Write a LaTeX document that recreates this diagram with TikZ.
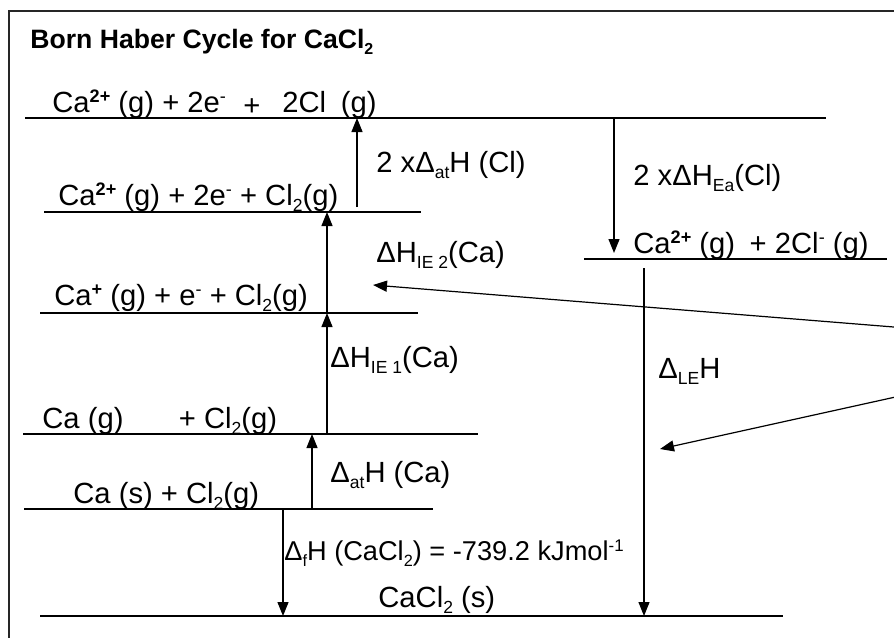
\documentclass[tikz,border=0pt]{standalone}
\usepackage{fontspec}
\setmainfont{Liberation Sans}
\usetikzlibrary{arrows.meta}
\newcommand{\chsub}[1]{\raisebox{-0.45ex}{\scalebox{0.6}{#1}}}
\newcommand{\chsup}[1]{\raisebox{0.6ex}{\scalebox{0.62}{#1}}}

\tikzset{
  level/.style={line width=1pt},
  jump/.style={line width=0.6pt,-{Triangle[length=7pt,width=5.5pt]}},
  lab/.style={anchor=base west,inner sep=0pt,font=\fontsize{14.6}{17}\selectfont},
}

\begin{document}
\begin{tikzpicture}[x=0.5pt,y=-0.5pt]
  \useasboundingbox (0,0) rectangle (894,638);

  % frame (only top and left edge are on the page)
  \coordinate (F0) at (9,11);
  \coordinate (F1) at (894,11);
  \coordinate (F2) at (9,638);
  \draw[line width=1pt,black!85] (F1)--(F0)--(F2);

  \node[anchor=base west,inner sep=0pt,font=\fontsize{13.3}{15}\selectfont\bfseries]
    (title) at (30,48) {Born Haber Cycle for CaCl\chsub{2}};

  % energy levels
  \coordinate (L1w) at (25,118);  \coordinate (L1e) at (826,118);
  \coordinate (L2w) at (44,212);  \coordinate (L2e) at (421,212);
  \coordinate (L3w) at (584,259); \coordinate (L3e) at (887,259);
  \coordinate (L4w) at (40,313);  \coordinate (L4e) at (418,313);
  \coordinate (L5w) at (23,434);  \coordinate (L5e) at (478,434);
  \coordinate (L6w) at (24,509);  \coordinate (L6e) at (433,509);
  \coordinate (L7w) at (40,616);  \coordinate (L7e) at (783,616);

  \draw[level] (L1w)--(L1e) (L2w)--(L2e) (L3w)--(L3e) (L4w)--(L4e)
               (L5w)--(L5e) (L6w)--(L6e) (L7w)--(L7e);

  % species on each level
  \node[lab] (s1) at (52,112)
    {Ca\chsup{\textbf{2+}} (g) + 2e\chsup{-}\hspace{0.6em}\raisebox{-0.25ex}{+}\hspace{0.75em}2Cl\hspace{0.5em}(g)};
  \node[lab] (s2) at (58,205) {Ca\chsup{\textbf{2+}} (g) + 2e\chsup{-} + Cl\chsub{2}(g)};
  \node[lab] (s3) at (633,253)
    {Ca\chsup{\textbf{2+}} (g)\hspace{0.5em}+ 2Cl\chsup{-} (g)};
  \node[lab] (s4) at (54,305) {Ca\chsup{\textbf{+}} (g) + e\chsup{-} + Cl\chsub{2}(g)};
  \node[lab] (s5) at (42,428) {Ca (g)\hspace{1.9em}+ Cl\chsub{2}(g)};
  \node[lab] (s6) at (73,503) {Ca (s) + Cl\chsub{2}(g)};
  \node[lab] (s7) at (378,607) {CaCl\chsub{2} (s)};

  % enthalpy steps
  \coordinate (A1a) at (357,207); \coordinate (A1b) at (357,118);
  \coordinate (A2a) at (614,118); \coordinate (A2b) at (614,253);
  \coordinate (A3a) at (327,313); \coordinate (A3b) at (327,212);
  \coordinate (A4a) at (327,434); \coordinate (A4b) at (327,313);
  \coordinate (A5a) at (312,509); \coordinate (A5b) at (312,434);
  \coordinate (A6a) at (283,509); \coordinate (A6b) at (283,616);
  \coordinate (A7a) at (644,268); \coordinate (A7b) at (644,616);

  \draw[jump] (A1a)--(A1b);
  \draw[jump] (A2a)--(A2b);
  \draw[jump] (A3a)--(A3b);
  \draw[jump] (A4a)--(A4b);
  \draw[jump] (A5a)--(A5b);
  \draw[jump] (A6a)--(A6b);
  \draw[jump] (A7a)--(A7b);

  \node[lab] (h1) at (376,172) {2 xΔ\chsub{at}H (Cl)};
  \node[lab] (h2) at (633,185) {2 xΔH\chsub{Ea}(Cl)};
  \node[lab] (h3) at (376,262) {ΔH\chsub{IE 2}(Ca)};
  \node[lab] (h4) at (330,367) {ΔH\chsub{IE 1}(Ca)};
  \node[lab] (h5) at (330,482) {Δ\chsub{at}H (Ca)};
  \node[lab,font=\fontsize{13.6}{16}\selectfont] (h6) at (284,560)
    {Δ\chsub{f}H (CaCl\chsub{2}) = -739.2 kJmol\chsup{-1}};
  \node[lab] (h7) at (658,378) {Δ\chsub{LE}H};

  % pointers coming in from the right margin
  \coordinate (P1a) at (900,327.5); \coordinate (P1b) at (373,285);
  \coordinate (P2a) at (900,396);   \coordinate (P2b) at (660,449);
  \draw[jump] (P1a)--(P1b);
  \draw[jump] (P2a)--(P2b);
\end{tikzpicture}
\end{document}
